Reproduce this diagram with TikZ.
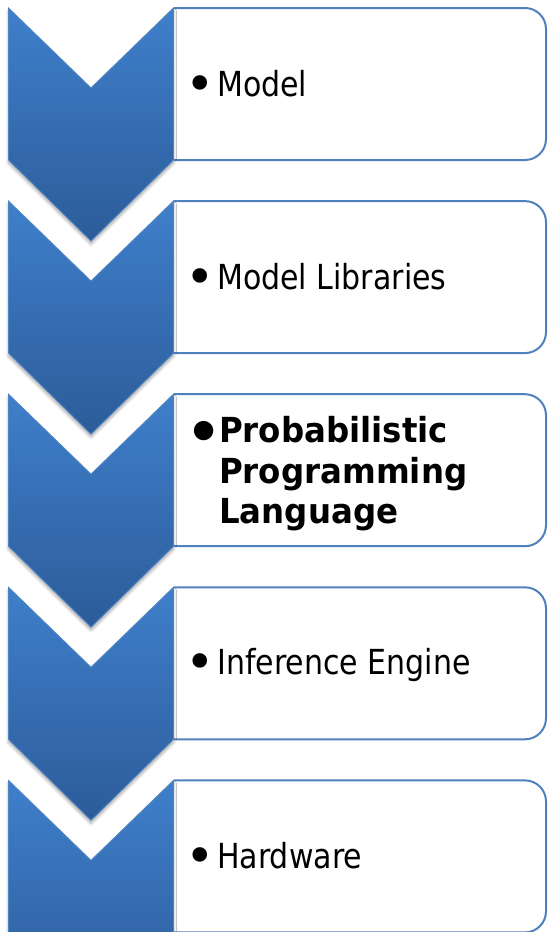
\documentclass[tikz,border=0pt]{standalone}
\usepackage{fontspec}
\setmainfont{DejaVu Sans}[FakeStretch=0.87,BoldFeatures={FakeStretch=0.94}]
\newfontfamily\bulletfont{DejaVu Sans}
\usetikzlibrary{shadows.blur}

\definecolor{chevtop}{HTML}{3F7FCB}
\definecolor{chevbot}{HTML}{2C5C99}
\definecolor{chevline}{HTML}{5085C4}
\definecolor{boxline}{HTML}{4F81BD}

\tikzset{
  chevron/.style={draw=chevline, line width=0.9pt, top color=chevtop, bottom color=chevbot,
    blur shadow={shadow xshift=0pt, shadow yshift=-3pt, shadow blur radius=3pt,
      shadow blur steps=6, shadow opacity=35}},
  itembox/.style={draw=boxline, line width=2pt, fill=white, rounded corners=21pt},
  itemtext/.style={anchor=base west, inner sep=0pt, font=\fontsize{34.5}{40}\selectfont},
  boldtext/.style={anchor=west, inner sep=0pt, align=left,
    font=\fontsize{34.5}{40.5}\selectfont\bfseries},
  bul/.style={anchor=base, inner sep=0pt, font=\bulletfont\fontsize{50}{50}\selectfont},
}

\begin{document}
\begin{tikzpicture}[x=1pt, y=-1pt]
  \useasboundingbox (0,0) rectangle (547,932);
  \clip (0,0) rectangle (547,932);

  % boxes and chevrons, one step every 193.1 units
  \foreach \k in {0,...,4} {
    \pgfmathsetmacro{\t}{8+193.1*\k}
    \pgfmathsetmacro{\b}{\t+152}
    % open outline: only the right-hand corners are rounded, the left side sits under the chevron
    \draw[itembox] (174,\t) -- (546,\t) -- (546,\b) -- (174,\b);
    \draw[chevron]
      (8.5,\t) -- (91,\t+80) -- (173.5,\t) -- (173.5,\b) -- (91,\b+81) -- (8.5,\b) -- cycle;
  }

  % item labels
  \node[bul] (b1) at (200,101.5) {•};
  \node[itemtext] (t1) at (217,96) {Model};

  \node[bul] (b2) at (200,294.5) {•};
  \node[itemtext] (t2) at (217,289) {Model Libraries};

  \node[bul, font=\bulletfont\fontsize{55}{55}\selectfont\bfseries] (b3) at (204,451) {•};
  \node[boldtext] (t3) at (219,474) {Probabilistic\\Programming\\Language};

  \node[bul] (b4) at (200,679.5) {•};
  \node[itemtext] (t4) at (217,674) {Inference Engine};

  \node[bul] (b5) at (200,873.5) {•};
  \node[itemtext] (t5) at (217,868) {Hardware};
\end{tikzpicture}
\end{document}
